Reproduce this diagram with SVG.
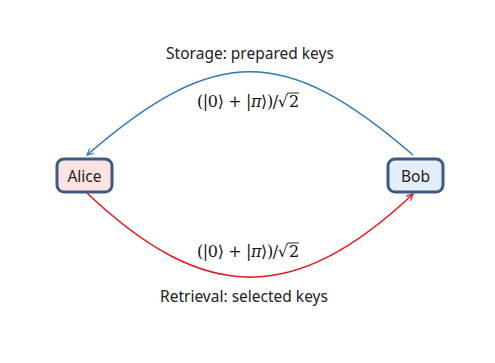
<svg xmlns="http://www.w3.org/2000/svg" width="495" height="363" viewBox="0 0 495 363">
<defs>
<style>
.node rect{stroke:#3d5a80;stroke-width:3}
.label{font-family:"Noto Sans","Open Sans",sans-serif;font-size:15.5px;fill:#222;text-anchor:middle}
.math{font-family:"DejaVu Serif","Liberation Serif",serif;font-size:16px;fill:#111}
.conn{fill:none;stroke-width:1.5}
</style>
<marker id="arrBlue" viewBox="0 0 10 10" refX="9" refY="5" markerWidth="8" markerHeight="8" markerUnits="userSpaceOnUse" orient="auto">
<path d="M1,1 L9,5 L1,9" fill="none" stroke="#2e75b6" stroke-width="1.5"/>
</marker>
<marker id="arrRed" viewBox="0 0 10 10" refX="9" refY="5" markerWidth="8" markerHeight="8" markerUnits="userSpaceOnUse" orient="auto">
<path d="M1,1 L9,5 L1,9" fill="none" stroke="#e0191f" stroke-width="1.5"/>
</marker>
</defs>
<rect width="495" height="363" fill="#ffffff"/>
<g id="connectors">
<path class="conn" d="M413,155 C285,44 215,44 87,155" stroke="#2e75b6" marker-end="url(#arrBlue)"/>
<path class="conn" d="M87,193 C205,305 295,305 413,194" stroke="#e0191f" marker-end="url(#arrRed)"/>
</g>
<g id="alice" class="node">
<rect x="57" y="159" width="55" height="33" rx="7" fill="#fde4e4"/>
<text class="label" x="84.5" y="182" font-size="16">Alice</text>
</g>
<g id="bob" class="node">
<rect x="388" y="159" width="55" height="33" rx="7" fill="#e4eef9"/>
<text class="label" x="415.5" y="182" font-size="16">Bob</text>
</g>
<g id="labels">
<text class="label" x="250" y="59">Storage: prepared keys</text>
<text class="label" x="244" y="302">Retrieval: selected keys</text>
<text class="math" x="197" y="107" textLength="91" lengthAdjust="spacing">(|0⟩ + |<tspan font-style="italic">π</tspan>⟩)/√</text>
<text class="math" x="289" y="107">2</text>
<line x1="287" y1="93" x2="299" y2="93" stroke="#111" stroke-width="0.9"/>
<text class="math" x="197" y="257" textLength="91" lengthAdjust="spacing">(|0⟩ + |<tspan font-style="italic">π</tspan>⟩)/√</text>
<text class="math" x="289" y="257">2</text>
<line x1="287" y1="243" x2="299" y2="243" stroke="#111" stroke-width="0.9"/>
</g>
</svg>
